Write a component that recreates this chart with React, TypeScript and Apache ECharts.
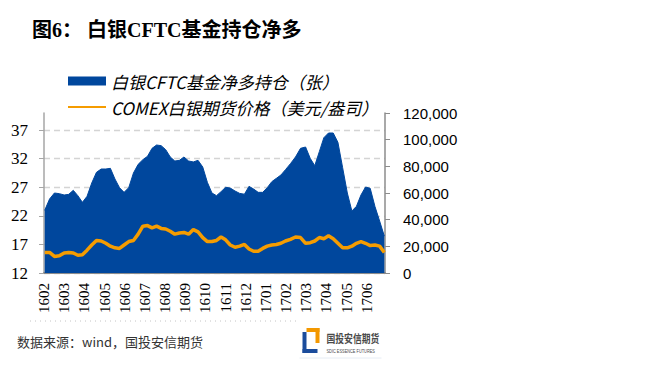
import React, { useEffect, useRef } from "react";
import * as echarts from "echarts";

const weekDates = [
  "2016-02-02", "2016-02-09", "2016-02-16", "2016-02-23",
  "2016-03-01", "2016-03-08", "2016-03-15", "2016-03-22", "2016-03-29",
  "2016-04-05", "2016-04-12", "2016-04-19", "2016-04-26",
  "2016-05-03", "2016-05-10", "2016-05-17", "2016-05-24", "2016-05-31",
  "2016-06-07", "2016-06-14", "2016-06-21", "2016-06-28",
  "2016-07-05", "2016-07-12", "2016-07-19", "2016-07-26",
  "2016-08-02", "2016-08-09", "2016-08-16", "2016-08-23", "2016-08-30",
  "2016-09-06", "2016-09-13", "2016-09-20", "2016-09-27",
  "2016-10-04", "2016-10-11", "2016-10-18", "2016-10-25",
  "2016-11-01", "2016-11-08", "2016-11-15", "2016-11-22", "2016-11-29",
  "2016-12-06", "2016-12-13", "2016-12-20", "2016-12-27",
  "2017-01-03", "2017-01-10", "2017-01-17", "2017-01-24", "2017-01-31",
  "2017-02-07", "2017-02-14", "2017-02-21", "2017-02-28",
  "2017-03-07", "2017-03-14", "2017-03-21", "2017-03-28",
  "2017-04-04", "2017-04-11", "2017-04-18", "2017-04-25",
  "2017-05-02", "2017-05-09", "2017-05-16", "2017-05-23", "2017-05-30",
  "2017-06-06", "2017-06-13", "2017-06-20", "2017-06-27",
];

// CFTC silver managed-money net long (contracts)
const netLong = [
  47000, 55500, 60000, 59500, 58500, 59000, 62000, 58000, 53000, 57500,
  67500, 75500, 78000, 78000, 78500, 70500, 64000, 60500, 64000, 75000,
  81500, 85000, 87500, 93500, 96000, 95500, 92500, 87000, 84000, 84500,
  87000, 84000, 83300, 84500, 79500, 68000, 60000, 58000, 61000, 64300,
  63700, 61500, 59700, 59100, 65000, 63000, 60500, 60500, 64000, 68500,
  71000, 73500, 77500, 82000, 87000, 93500, 94500, 86000, 80500, 91000,
  101500, 105000, 105000, 98000, 79000, 60000, 46500, 50000, 58500, 64500,
  63500, 50000, 39000, 27700,
];

// COMEX silver futures price (USD/oz)
const silverPrice = [
  15.6, 15.6, 14.9, 15.0, 15.5, 15.6, 15.5, 15.1, 15.2, 16.0,
  16.9, 17.7, 17.6, 17.2, 16.7, 16.4, 16.3, 16.9, 17.5, 17.7,
  18.8, 20.2, 20.3, 19.9, 20.2, 19.8, 19.7, 19.3, 18.8, 19.0,
  19.1, 18.8, 19.6, 19.2, 18.2, 17.5, 17.5, 17.7, 18.3, 17.8,
  16.9, 16.5, 16.7, 17.0, 16.2, 15.8, 15.8, 16.3, 16.7, 16.9,
  17.0, 17.2, 17.6, 17.9, 18.3, 18.2, 17.2, 17.3, 17.6, 18.2,
  18.0, 18.5, 18.0, 17.2, 16.4, 16.4, 16.7, 17.2, 17.5, 17.2,
  16.8, 16.9, 16.7, 15.6,
];

const monthLabels = [
  "1602", "1603", "1604", "1605", "1606", "1607", "1608", "1609", "1610",
  "1611", "1612", "1701", "1702", "1703", "1704", "1705", "1706",
];

const leftTicks = [12, 17, 22, 27, 32, 37];

const SERIES_NET = "白银CFTC基金净多持仓（张）";
const SERIES_PRICE = "COMEX白银期货价格（美元/盎司）";
const TITLE = "图6： 白银CFTC基金持仓净多";
const SOURCE = "数据来源：wind，国投安信期货";

const BLUE = "#00479d";
const ORANGE = "#f59c00";

// position of a date on a month axis (0 = 1 Feb 2016, 1 = 1 Mar 2016, ...)
const monthPos = (s: string) => {
  const [y, m, d] = s.split("-").map(Number);
  const daysInMonth = new Date(y, m, 0).getDate();
  return (y - 2016) * 12 + (m - 2) + (d - 1) / daysInMonth;
};

export default function App() {
  const ref = useRef<HTMLDivElement>(null);

  useEffect(() => {
    const el = ref.current;
    if (!el) return;
    const chart = echarts.init(el, null, { renderer: "svg" });

    const netData = weekDates.map((d, i) => [monthPos(d), netLong[i]]);
    const priceData = weekDates.map((d, i) => [monthPos(d), silverPrice[i]]);

    chart.setOption({
      animation: false,
      backgroundColor: "#ffffff",
      grid: { left: 44, right: 266, top: 113, bottom: 100, containLabel: false },
      legend: {
        orient: "vertical",
        left: 62,
        top: 66,
        itemWidth: 38,
        itemHeight: 9,
        itemGap: 6,
        selectedMode: false,
        data: [
          { name: SERIES_NET, icon: "rect" },
          { name: SERIES_PRICE, itemStyle: { opacity: 0 } },
        ],
        textStyle: {
          fontFamily: "'Noto Sans CJK SC', sans-serif",
          fontStyle: "italic",
          fontSize: 17,
          color: "#000",
          lineHeight: 20,
        },
      },
      xAxis: {
        type: "value",
        min: 0,
        max: monthPos("2017-06-28"),
        interval: 1,
        axisLine: { show: true, onZero: false, lineStyle: { color: "#8c8c8c", width: 2 } },
        axisTick: { show: false },
        axisLabel: {
          rotate: 90,
          margin: 10,
          fontFamily: "'Liberation Serif', serif",
          fontSize: 15,
          color: "#000",
          showMaxLabel: false,
          hideOverlap: false,
          formatter: (v: number) =>
            Number.isInteger(v) && monthLabels[v] ? monthLabels[v] : "",
        },
        splitLine: { show: false },
      },
      yAxis: [
        {
          type: "value",
          position: "left",
          min: 12,
          max: 40,
          axisLine: { show: true, lineStyle: { color: "#a6a6a6", width: 1.5 } },
          axisTick: { show: true, length: 5, customValues: leftTicks, lineStyle: { color: "#a6a6a6" } },
          axisLabel: {
            customValues: leftTicks,
            margin: 16,
            fontFamily: "'Liberation Serif', serif",
            fontSize: 17,
            color: "#000",
          },
          splitLine: { show: true, lineStyle: { color: "#d4d4d4", type: [6, 4], width: 1.3 } },
        },
        {
          type: "value",
          position: "right",
          min: 0,
          max: 120000,
          interval: 20000,
          axisLine: { show: true, lineStyle: { color: "#8c8c8c", width: 1.5 } },
          axisTick: { show: true, length: 5, lineStyle: { color: "#8c8c8c" } },
          axisLabel: {
            margin: 18,
            fontFamily: "'Liberation Sans', sans-serif",
            fontSize: 15,
            color: "#000",
            formatter: (v: number) => v.toLocaleString("en-US"),
          },
          splitLine: { show: false },
        },
      ],
      series: [
        {
          name: SERIES_NET,
          type: "line",
          yAxisIndex: 1,
          data: netData,
          symbol: "none",
          showSymbol: false,
          lineStyle: { width: 1, color: BLUE },
          itemStyle: { color: BLUE },
          areaStyle: { color: BLUE, opacity: 1 },
          z: 1,
        },
        {
          name: SERIES_PRICE,
          type: "line",
          yAxisIndex: 0,
          data: priceData,
          symbol: "none",
          showSymbol: false,
          lineStyle: { width: 3.5, color: ORANGE },
          itemStyle: { color: ORANGE },
          z: 2,
        },
      ],
      graphic: [
        {
          type: "text",
          left: 32,
          top: 20,
          style: {
            text: TITLE,
            fontFamily: "'Liberation Serif', 'Noto Sans CJK SC', serif",
            fontWeight: "bold",
            fontSize: 20,
            fill: "#000",
          },
        },
        {
          type: "line",
          shape: { x1: 30, y1: 321, x2: 300, y2: 321 },
          style: { stroke: "#c4c4c4", lineWidth: 1, lineDash: [1, 4] },
        },
        {
          type: "text",
          left: 17,
          top: 335,
          style: {
            text: SOURCE,
            fontFamily: "'Noto Sans CJK SC', sans-serif",
            fontSize: 13,
            fill: "#333",
          },
        },
        {
          type: "group",
          left: 297,
          top: 328,
          children: [
            { type: "rect", shape: { x: 5, y: 0, width: 13, height: 4 }, style: { fill: "#f39800" } },
            { type: "rect", shape: { x: 14, y: 0, width: 4, height: 15 }, style: { fill: "#f39800" } },
            { type: "rect", shape: { x: 1, y: 4, width: 4, height: 21 }, style: { fill: "#1b4c9c" } },
            { type: "rect", shape: { x: 1, y: 21, width: 15, height: 4 }, style: { fill: "#1b4c9c" } },
            {
              type: "text",
              x: 25,
              y: 5,
              scaleX: 0.8,
              style: { text: "国投安信期货", fontFamily: "'Noto Sans CJK SC', sans-serif", fontSize: 11, fontWeight: "bold", fill: "#4a4a4a" },
            },
            {
              type: "text",
              x: 25,
              y: 20,
              scaleX: 0.65,
              style: { text: "SDIC ESSENCE FUTURES", fontFamily: "'Liberation Sans', sans-serif", fontSize: 6, fill: "#4a4a4a" },
            },
            { type: "line", shape: { x1: -2, y1: 30, x2: 80, y2: 30 }, style: { stroke: "#e6ecf4", lineWidth: 1 } },
          ],
        },
      ],
    });

    return () => chart.dispose();
  }, []);

  return (
    <div
      ref={ref}
      style={{ position: "fixed", left: 0, top: 0, width: 651, height: 373, background: "#fff" }}
    />
  );
}
